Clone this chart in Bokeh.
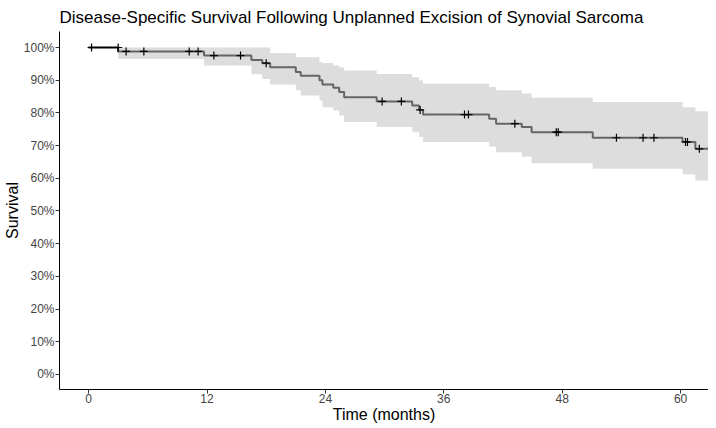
from bokeh.plotting import figure
from bokeh.models import Range1d, FixedTicker
from bokeh.embed import file_html
from bokeh.resources import INLINE

# Kaplan-Meier step data (time in months, survival fraction, 95% CI)
step_times = [0, 3.0, 11.7, 16.5, 17.6, 18.4, 21.0, 21.5, 23.4, 23.7, 24.8, 25.4, 25.9,
              29.2, 32.8, 33.5, 33.9, 40.6, 41.3, 43.9, 44.9, 51.1, 60.2, 61.5]
surv = [1.0, 0.988, 0.9755, 0.962, 0.952, 0.94, 0.925, 0.914, 0.90, 0.887, 0.877, 0.864, 0.848,
        0.835, 0.823, 0.809, 0.795, 0.782, 0.767, 0.757, 0.741, 0.724, 0.711, 0.69]
lower = [1.0, 0.965, 0.945, 0.918, 0.904, 0.887, 0.869, 0.853, 0.838, 0.817, 0.807, 0.792, 0.772,
         0.757, 0.741, 0.726, 0.711, 0.697, 0.68, 0.666, 0.646, 0.629, 0.612, 0.593]
upper = [1.0, 1.0, 1.0, 1.0, 1.0, 0.983, 0.97, 0.97, 0.956, 0.953, 0.945, 0.94, 0.93,
         0.919, 0.909, 0.899, 0.889, 0.879, 0.869, 0.859, 0.846, 0.833, 0.817, 0.805]
end_time = 62.9

censor_times = [0.3, 3.0, 3.8, 5.6, 10.2, 11.1, 12.7, 15.4, 18.0, 29.75, 31.7, 33.6,
                38.1, 38.5, 43.2, 47.4, 47.6, 53.5, 56.2, 57.3, 60.5, 60.7, 61.9]
censor_surv = [1.0, 1.0, 0.988, 0.988, 0.988, 0.988, 0.9755, 0.9755, 0.952, 0.835, 0.835, 0.809,
               0.795, 0.795, 0.767, 0.741, 0.741, 0.724, 0.724, 0.724, 0.711, 0.711, 0.69]

x_ticks = [0, 12, 24, 36, 48, 60]
y_ticks = [0.0, 0.1, 0.2, 0.3, 0.4, 0.5, 0.6, 0.7, 0.8, 0.9, 1.0]
y_tick_labels = ["0%", "10%", "20%", "30%", "40%", "50%", "60%", "70%", "80%", "90%", "100%"]

title_text = "Disease-Specific Survival Following Unplanned Excision of Synovial Sarcoma"
x_label = "Time (months)"
y_label = "Survival"

FONT = "Liberation Sans"

t = step_times + [end_time]
s = surv + [surv[-1]]
lo = lower + [lower[-1]]
hi = upper + [upper[-1]]

p = figure(frame_width=649, frame_height=358, output_backend="svg", toolbar_location=None,
           x_range=Range1d(-2.95, 62.83), y_range=Range1d(-0.046, 1.049),
           min_border_left=52, min_border_right=0, min_border_top=25, min_border_bottom=23,
           title=title_text)

p.title.text_font = FONT
p.title.text_font_size = "17px"
p.title.text_font_style = "normal"
p.title.text_color = "black"
p.title.offset = 0
p.title.standoff = 10

p.outline_line_color = None
p.xgrid.visible = False
p.ygrid.visible = False
p.background_fill_color = "white"
p.border_fill_color = "white"

# survival curve
p.step(x=t, y=s, mode="after", line_color="black", line_width=2)
# confidence band over the curve
p.varea_step(x=t, y1=lo, y2=hi, step_mode="after", fill_color="#bfbfbf", fill_alpha=0.53)
# censor marks
p.scatter(x=censor_times, y=censor_surv, marker="cross", size=8,
          line_color="black", line_width=1.2)

for ax in (p.xaxis[0], p.yaxis[0]):
    ax.axis_line_color = "black"
    ax.axis_line_width = 1
    ax.major_tick_line_color = "#333333"
    ax.major_tick_in = 0
    ax.major_tick_out = 4
    ax.minor_tick_line_color = None
    ax.major_label_text_font = FONT
    ax.major_label_text_font_size = "12px"
    ax.major_label_text_color = "#444444"
    ax.axis_label_text_font = FONT
    ax.axis_label_text_font_size = "16px"
    ax.axis_label_text_font_style = "normal"
    ax.axis_label_text_color = "black"

p.xaxis[0].ticker = FixedTicker(ticks=x_ticks)
p.xaxis[0].axis_label = x_label
p.xaxis[0].major_label_standoff = 0
p.xaxis[0].axis_label_standoff = 0

p.yaxis[0].ticker = FixedTicker(ticks=y_ticks)
p.yaxis[0].major_label_overrides = {v: lab for v, lab in zip(y_ticks, y_tick_labels)}
p.yaxis[0].axis_label = y_label
p.yaxis[0].major_label_standoff = 1
p.yaxis[0].axis_label_standoff = 0

open("out.html", "w").write(file_html(p, INLINE))
